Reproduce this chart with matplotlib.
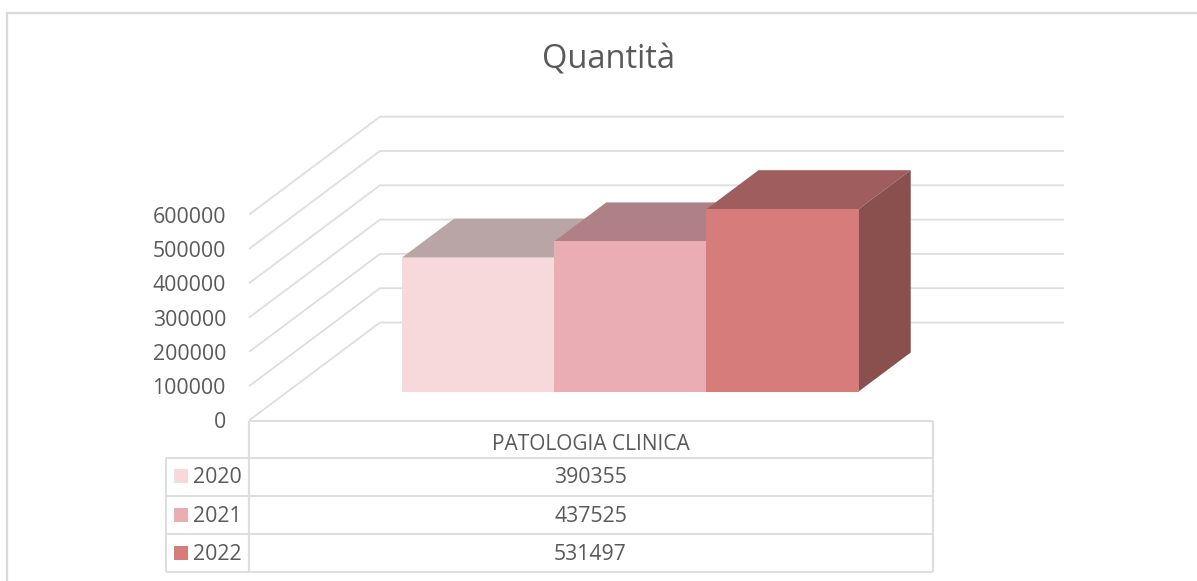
import matplotlib
matplotlib.use("Agg")
import matplotlib.pyplot as plt
from matplotlib.patches import Polygon, Rectangle

title = "Quantità"
category = "PATOLOGIA CLINICA"
years = ["2020", "2021", "2022"]
values = [390355, 437525, 531497]
ticks = [0, 100000, 200000, 300000, 400000, 500000, 600000]
front = ["#F7D8DB", "#E9ADB3", "#D67C7B"]
top = ["#BAA5A6", "#AF8086", "#A05D5D"]
side = ["#A08A8C", "#8E666A", "#89504E"]
TXT = "#595959"
GRID = "#DEDEDE"

plt.rcParams["font.family"] = ["Open Sans", "DejaVu Sans"]
W, H = 1197, 581
fig = plt.figure(figsize=(W / 100, H / 100), dpi=100, facecolor="white")
ax = fig.add_axes([0, 0, 1, 1])
ax.set_xlim(0, W)
ax.set_ylim(H, 0)
ax.axis("off")

# oblique projection: value -> screen height, depth -> screen shift
PX_PER_UNIT = 34.3 / 100000
FLOOR_Y = 420.5
LEFT = 249
RIGHT = 933
DX, DY = 131, 98


def proj(x, v, d=0.0):
    return (x + DX * d, FLOOR_Y - v * PX_PER_UNIT - DY * d)


def line(pts, lw=1.3, c=GRID, z=1):
    ax.plot([p[0] for p in pts], [p[1] for p in pts], color=c, lw=lw, zorder=z,
            solid_capstyle="butt", solid_joinstyle="miter")


# outer frame (open at the right and bottom)
line([(7, 581), (7, 13), (1197, 13)], lw=1.6, c="#D9D9D9")

# walls
for t in ticks:
    line([proj(LEFT, t), proj(LEFT, t, 1), proj(RIGHT, t, 1)])
    ax.text(226, proj(LEFT, t)[1] + 2.5, f"{t}", ha="right", va="center",
            fontsize=15.3, color=TXT)

# bars
BAR_W = 152.2
BAR_X0 = 402
D0 = 29 / 98
D1 = D0 + 39 / 98
for i, v in enumerate(values):
    xa = BAR_X0 + i * BAR_W - DX * D0
    xb = xa + BAR_W
    z = 3 + i
    ax.add_patch(Polygon([proj(xa, 0, D0), proj(xb, 0, D0), proj(xb, v, D0), proj(xa, v, D0)],
                         closed=True, fc=front[i], ec="none", zorder=z + 0.2))
    ax.add_patch(Polygon([proj(xa, v, D0), proj(xb, v, D0), proj(xb, v, D1), proj(xa, v, D1)],
                         closed=True, fc=top[i], ec="none", zorder=z))
    ax.add_patch(Polygon([proj(xb, 0, D0), proj(xb, v, D0), proj(xb, v, D1), proj(xb, 0, D1)],
                         closed=True, fc=side[i], ec="none", zorder=z))

# data table
rows_y = [457.5, 496, 534, 572]
LEG_L = 166
line([(LEFT, FLOOR_Y), (LEFT, 572)], lw=1.6)
line([(RIGHT, FLOOR_Y), (RIGHT, 572)], lw=1.6)
line([(LEG_L, rows_y[0]), (LEG_L, rows_y[-1])], lw=1.4)
line([(LEFT, FLOOR_Y), (RIGHT, FLOOR_Y)], lw=1.4)
for y in rows_y:
    line([(LEG_L, y), (RIGHT, y)], lw=1.4)
cx = (LEFT + RIGHT) / 2 - 0.5
ax.text(cx, 445, category, ha="center", va="center", fontsize=15, color=TXT)
centers = [476, 514.5, 553]
for yr, v, c, yc in zip(years, values, front, centers):
    ax.add_patch(Rectangle((174, yc - 7), 14, 14, fc=c, ec="none", zorder=3))
    ax.text(193, yc + 1.5, yr, ha="left", va="center", fontsize=15.3, color=TXT)
    ax.text(cx, yc + 1.5, f"{v}", ha="center", va="center", fontsize=15.3, color=TXT)

ax.text(608, 60, title, ha="center", va="center", fontsize=23.5, color=TXT)
fig.savefig("out.png", dpi=100, facecolor="white")
